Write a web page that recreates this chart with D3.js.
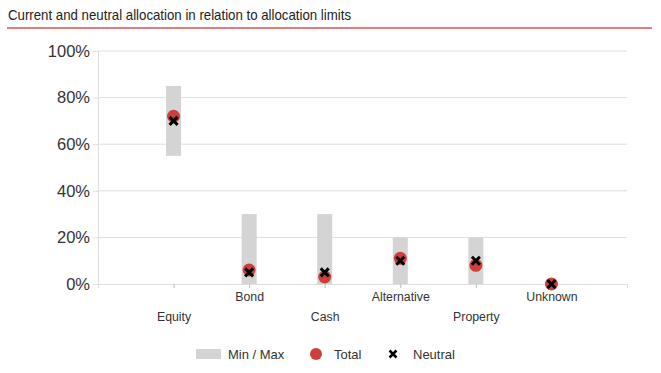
<!DOCTYPE html>
<html>
<head>
<meta charset="utf-8">
<script src="https://cdn.jsdelivr.net/npm/d3@7"></script>
<style>
  body { margin: 0; background: #fff; }
  text { font-family: "Liberation Sans", Arial, sans-serif; }
</style>
</head>
<body>
<svg id="chart" width="661" height="373"></svg>
<script>
// data
var categories = ["Equity", "Bond", "Cash", "Alternative", "Property", "Unknown"];
var minVals = [55, 0, 0, 0, 0, 0];
var maxVals = [85, 30, 30, 20, 20, 0];
var totalVals = [72, 6, 3, 11, 8, 0];
var neutralVals = [70, 5, 5, 10, 10, 0];
var yTicks = [0, 20, 40, 60, 80, 100];

var colors = { band: "#d4d4d4", total: "#cc3f3a", neutral: "#000", grid: "#dedede", rule: "#d9534f" };

var svg = d3.select("#chart");
var plotLeft = 98, plotRight = 627, plotTop = 51, plotBottom = 284;

// title + red rule (title font is a bit condensed in the original)
svg.append("text")
  .attr("x", 8).attr("y", 19.5)
  .attr("textLength", 343).attr("lengthAdjust", "spacingAndGlyphs")
  .style("font-size", "15px").style("fill", "#222")
  .text("Current and neutral allocation in relation to allocation limits");
svg.append("line")
  .attr("x1", 7).attr("x2", 652).attr("y1", 28).attr("y2", 28)
  .style("stroke", colors.rule).style("stroke-width", 1.5);

var x = d3.scalePoint().domain(categories).range([plotLeft, plotRight]).padding(1);
var y = d3.scaleLinear().domain([0, 100]).range([plotBottom, plotTop]);

// gridlines
svg.append("g").selectAll("line").data(yTicks.filter(function(d){ return d > 0; }))
  .enter().append("line")
  .attr("x1", plotLeft).attr("x2", plotRight)
  .attr("y1", function(d){ return y(d); }).attr("y2", function(d){ return y(d); })
  .style("stroke", colors.grid).style("stroke-width", 1);

// y axis
var yAxis = svg.append("g").attr("transform", "translate(" + plotLeft + ",0)")
  .call(d3.axisLeft(y).tickValues(yTicks).tickSize(5).tickPadding(3)
    .tickFormat(function(d){ return d + "%"; }));
yAxis.select(".domain").style("stroke", colors.grid);
yAxis.selectAll(".tick line").style("stroke", colors.grid);
yAxis.selectAll("text").style("font-size", "16.5px").style("fill", "#333")
  .style("font-family", "'Liberation Sans', Arial, sans-serif");

// x axis
var xAxis = svg.append("g").attr("transform", "translate(0," + plotBottom + ")")
  .call(d3.axisBottom(x).tickSize(4).tickSizeOuter(4).tickPadding(6));
xAxis.select(".domain").style("stroke", colors.grid);
xAxis.selectAll(".tick line").style("stroke", "#bbb");
xAxis.selectAll("text")
  .style("font-size", "12.3px").style("fill", "#333")
  .style("font-family", "'Liberation Sans', Arial, sans-serif")
  .attr("dy", function(d, i){ return i % 2 === 0 ? "2.2em" : "0.6em"; });

// min / max bars
var bw = 15;
svg.append("g").selectAll("rect").data(categories).enter().append("rect")
  .attr("x", function(d){ return x(d) - bw / 2; })
  .attr("y", function(d, i){ return y(maxVals[i]); })
  .attr("width", bw)
  .attr("height", function(d, i){ return y(minVals[i]) - y(maxVals[i]); })
  .style("fill", colors.band);

// total dots
svg.append("g").selectAll("circle").data(categories).enter().append("circle")
  .attr("cx", function(d){ return x(d); })
  .attr("cy", function(d, i){ return y(totalVals[i]); })
  .attr("r", 6.5)
  .style("fill", colors.total);

// neutral crosses
var crossPath = function(cx, cy, s){
  return "M" + (cx - s) + "," + (cy - s) + "L" + (cx + s) + "," + (cy + s) +
         "M" + (cx - s) + "," + (cy + s) + "L" + (cx + s) + "," + (cy - s);
};
svg.append("g").selectAll("path").data(categories).enter().append("path")
  .attr("d", function(d, i){ return crossPath(x(d), y(neutralVals[i]), 4); })
  .style("stroke", colors.neutral).style("stroke-width", 3);

// legend
var lg = svg.append("g").attr("transform", "translate(0,354)");
lg.append("rect").attr("x", 196).attr("y", -5).attr("width", 25).attr("height", 10).style("fill", colors.band);
lg.append("text").attr("x", 228).attr("y", 4.5).style("font-size", "13px").style("fill", "#333").text("Min / Max");
lg.append("circle").attr("cx", 316).attr("cy", 0).attr("r", 6).style("fill", colors.total);
lg.append("text").attr("x", 334).attr("y", 4.5).style("font-size", "13px").style("fill", "#333").text("Total");
lg.append("path").attr("d", crossPath(393, 0, 3.5)).style("stroke", colors.neutral).style("stroke-width", 2.5);
lg.append("text").attr("x", 413).attr("y", 4.5).style("font-size", "13px").style("fill", "#333").text("Neutral");
</script>
</body>
</html>
